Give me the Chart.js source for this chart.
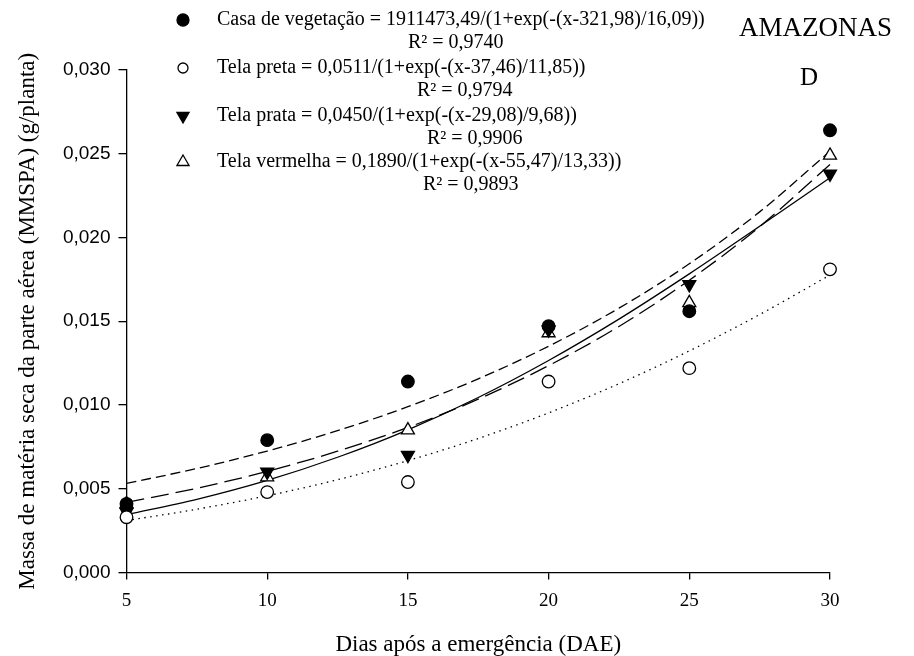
<!DOCTYPE html>
<html>
<head>
<meta charset="utf-8">
<title>MMSPA - Amazonas</title>
<script src="https://cdn.jsdelivr.net/npm/chart.js@4/dist/chart.umd.min.js"></script>
<style>
  html, body { margin: 0; padding: 0; background: #fff; }
</style>
</head>
<body>
<canvas id="grafico" width="914" height="656"></canvas>
<script>
// pontos observados (DAE x MMSPA)
const dias = [5, 10, 15, 20, 25, 30];
const casaVegetacao = [0.0041, 0.0079, 0.0114, 0.0147, 0.0156, 0.0264];
const telaPreta     = [0.0033, 0.0048, 0.0054, 0.0114, 0.0122, 0.0181];
const telaPrata     = [0.0036, 0.0060, 0.0070, 0.0145, 0.0172, 0.0238];
const telaVermelha  = [0.0041, 0.0057, 0.0085, 0.0143, 0.0161, 0.0249];

// curvas ajustadas, lidas ao longo das linhas
const diasCurva = [5, 7.5, 10, 12.5, 15, 17.5, 20, 22.5, 25, 27.5, 30];
const curvaCasa     = [0.00532, 0.00621, 0.00725, 0.00847, 0.00990, 0.01156, 0.01351, 0.01578, 0.01843, 0.02153, 0.02515];
const curvaPreta    = [0.00310, 0.00378, 0.00458, 0.00554, 0.00668, 0.00800, 0.00953, 0.01127, 0.01323, 0.01540, 0.01776];
const curvaPrata    = [0.00345, 0.00437, 0.00550, 0.00688, 0.00852, 0.01045, 0.01266, 0.01513, 0.01783, 0.02067, 0.02357];
const curvaVermelha = [0.00419, 0.00503, 0.00604, 0.00724, 0.00866, 0.01035, 0.01235, 0.01469, 0.01745, 0.02065, 0.02436];

const rotulos = [
  'Casa de vegetação = 1911473,49/(1+exp(-(x-321,98)/16,09))',
  'Tela preta = 0,0511/(1+exp(-(x-37,46)/11,85))',
  'Tela prata = 0,0450/(1+exp(-(x-29,08)/9,68))',
  'Tela vermelha = 0,1890/(1+exp(-(x-55,47)/13,33))'
];
const r2 = ['R² = 0,9740', 'R² = 0,9794', 'R² = 0,9906', 'R² = 0,9893'];

const serif = '"Liberation Serif", "Times New Roman", serif';
const sans = '"Liberation Sans", Arial, sans-serif';

// estilo dos marcadores: circulo cheio, circulo vazio, triangulo p/ baixo, triangulo vazio
const marcadores = [
  { style: 'circle', rot: 0, fill: '#000', r: 6.3 },
  { style: 'circle', rot: 0, fill: '#fff', r: 6.3 },
  { style: 'triangle', rot: 180, fill: '#000', r: 7.5 },
  { style: 'triangle', rot: 0, fill: '#fff', r: 7.5 }
];

function pares(xs, ys) {
  return xs.map((x, i) => ({ x: x, y: ys[i] }));
}

function pontos(ys, m) {
  return {
    data: pares(dias, ys),
    showLine: false,
    pointStyle: m.style,
    rotation: m.rot,
    pointRadius: m.r,
    pointHoverRadius: m.r,
    backgroundColor: m.fill,
    borderColor: '#000',
    borderWidth: 1.3,
    clip: false,
    order: 0
  };
}

function curva(ys, dash) {
  return {
    data: pares(diasCurva, ys),
    showLine: true,
    pointRadius: 0,
    borderColor: '#000',
    borderWidth: 1.3,
    borderDash: dash,
    cubicInterpolationMode: 'monotone',
    fill: false,
    clip: false,
    order: 1
  };
}

function desenhaMarcador(ctx, m, x, y, r) {
  ctx.beginPath();
  if (m.style === 'circle') {
    ctx.arc(x, y, r, 0, Math.PI * 2);
  } else {
    let a = m.rot * Math.PI / 180;
    for (let k = 0; k < 3; k++) {
      const px = x + Math.sin(a) * r;
      const py = y - Math.cos(a) * r;
      if (k === 0) ctx.moveTo(px, py); else ctx.lineTo(px, py);
      a += Math.PI * 2 / 3;
    }
    ctx.closePath();
  }
  ctx.fillStyle = m.fill;
  ctx.fill();
  ctx.lineWidth = 1.3;
  ctx.strokeStyle = '#000';
  ctx.stroke();
}

const legenda = {
  id: 'legenda',
  afterDraw(chart) {
    const ctx = chart.ctx;
    const linhaY = [20, 68, 116, 162];
    const r2x = [408, 417, 427, 423];
    const raioLeg = [6, 5, 7, 7];
    ctx.save();
    ctx.textBaseline = 'middle';
    ctx.textAlign = 'left';
    ctx.font = '20px ' + serif;
    for (let i = 0; i < rotulos.length; i++) {
      const y = linhaY[i];
      desenhaMarcador(ctx, marcadores[i], 183, y, raioLeg[i]);
      ctx.fillStyle = '#000';
      ctx.fillText(rotulos[i], 217, y);
      ctx.fillText(r2[i], r2x[i], y + 23);
    }
    ctx.font = '27px ' + serif;
    ctx.fillText('AMAZONAS', 739, 29);
    ctx.font = '25px ' + serif;
    ctx.textAlign = 'center';
    ctx.fillText('D', 809, 78);
    ctx.restore();
  }
};

new Chart(document.getElementById('grafico'), {
  type: 'scatter',
  data: {
    datasets: [
      pontos(casaVegetacao, marcadores[0]),
      pontos(telaPreta, marcadores[1]),
      pontos(telaPrata, marcadores[2]),
      pontos(telaVermelha, marcadores[3]),
      curva(curvaCasa, [10, 5]),
      curva(curvaPreta, [1.5, 4.5]),
      curva(curvaPrata, []),
      curva(curvaVermelha, [18, 7])
    ]
  },
  options: {
    responsive: false,
    animation: false,
    devicePixelRatio: 1,
    layout: { padding: { top: 70, right: 84, left: 0, bottom: 0 } },
    plugins: { legend: { display: false }, tooltip: { enabled: false } },
    scales: {
      x: {
        type: 'linear',
        min: 5,
        max: 30,
        afterFit: s => { s.height = 83.5; },
        border: { display: true, color: '#000', width: 1.3 },
        grid: { drawOnChartArea: false, drawTicks: true, tickLength: 7, color: '#000', lineWidth: 1.3 },
        ticks: {
          stepSize: 5,
          padding: 10,
          color: '#000',
          font: { family: serif, size: 19 },
          maxRotation: 0
        },
        title: {
          display: true,
          text: 'Dias após a emergência (DAE)',
          color: '#000',
          font: { family: serif, size: 23, lineHeight: 1 },
          padding: 0
        }
      },
      y: {
        min: 0,
        max: 0.03,
        afterFit: s => { s.width = 126.5; },
        border: { display: true, color: '#000', width: 1.3 },
        grid: { drawOnChartArea: false, drawTicks: true, tickLength: 8, color: '#000', lineWidth: 1.3 },
        ticks: {
          stepSize: 0.005,
          padding: 8,
          color: '#000',
          font: { family: sans, size: 19 },
          callback: v => v.toFixed(3).replace('.', ',')
        },
        title: {
          display: true,
          text: 'Massa de matéria seca da parte aérea (MMSPA) (g/planta)',
          color: '#000',
          font: { family: serif, size: 23, lineHeight: 1.2 },
          padding: 14
        }
      }
    }
  },
  plugins: [legenda]
});
</script>
</body>
</html>
